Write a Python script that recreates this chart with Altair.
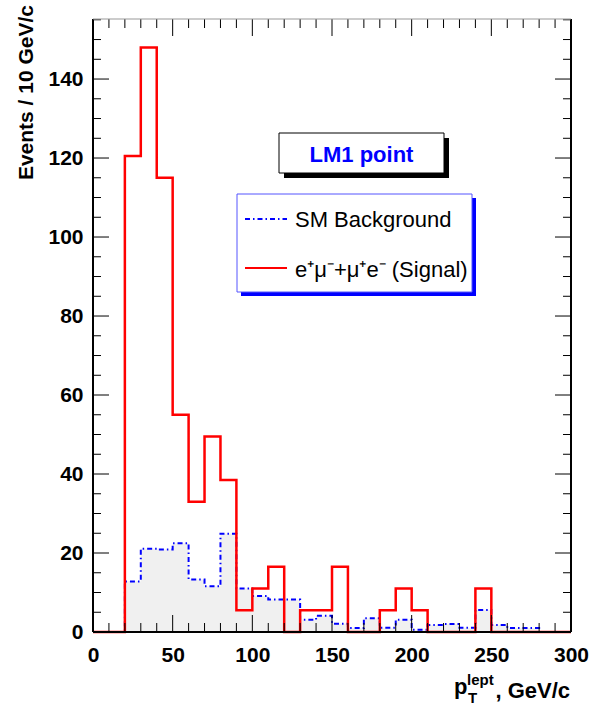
import altair as alt
import pandas as pd

# ---- data ----
bin_edges = list(range(0, 310, 10))  # 0..300
signal = [0, 0, 120.5, 148, 115, 55, 33, 49.5, 38.5, 5.5,
          11, 16.5, 0, 5.5, 5.5, 16.5, 0, 0, 5.5, 11,
          5.5, 0, 0, 0, 11, 0, 0, 0, 0, 0]
background = [0, 0, 12.8, 21.1, 20.9, 22.5, 13.3, 11.6, 24.9, 11.0,
              9.1, 8.2, 8.2, 3.1, 4.1, 2.1, 1.0, 3.5, 1.1, 3.1,
              0.6, 1.8, 2.0, 1.1, 5.6, 1.8, 1.0, 1.0, 0, 0]
x_major = [0, 50, 100, 150, 200, 250, 300]
x_minor = [v for v in range(0, 301, 10) if v % 50 != 0]
y_major = [0, 20, 40, 60, 80, 100, 120, 140]
y_minor = [v for v in range(0, 156, 5) if v % 20 != 0]

W, H = 478, 613
FONT = "Liberation Sans"

hist = pd.DataFrame({
    "x": bin_edges,
    "sig": signal + [signal[-1]],
    "bkg": background + [background[-1]],
})

xs = alt.Scale(domain=[0, 300], nice=False, zero=False)
ys = alt.Scale(domain=[0, 155.2], nice=False, zero=False)

x_axis = alt.Axis(values=x_major, ticks=False, domain=False, grid=False, title=None,
                  labelFont=FONT, labelFontWeight="bold", labelFontSize=21,
                  labelColor="black", labelPadding=12, labelFlush=False)
y_axis = alt.Axis(values=y_major, ticks=False, domain=False, grid=False, title=None,
                  labelFont=FONT, labelFontWeight="bold", labelFontSize=21,
                  labelColor="black", labelPadding=10)

base = alt.Chart(hist)

bkg_area = base.mark_area(interpolate="step-after", color="#f0f0f0").encode(
    x=alt.X("x:Q", scale=xs, axis=x_axis),
    y=alt.Y("bkg:Q", scale=ys, axis=y_axis),
)
bkg_line = base.mark_line(interpolate="step-after", color="#0000ff", strokeWidth=2,
                          strokeDash=[5, 3, 1.5, 3]).encode(
    x=alt.X("x:Q", scale=xs), y=alt.Y("bkg:Q", scale=ys))
sig_line = base.mark_line(interpolate="step-after", color="#ff0000", strokeWidth=2.5).encode(
    x=alt.X("x:Q", scale=xs), y=alt.Y("sig:Q", scale=ys))

def xticks(vals, length):
    d = alt.Chart(pd.DataFrame({"v": vals}))
    bottom = d.mark_rule(color="black", strokeWidth=1).encode(
        x=alt.X("v:Q", scale=xs), y=alt.value(H), y2=alt.value(H - length))
    top = d.mark_rule(color="black", strokeWidth=1).encode(
        x=alt.X("v:Q", scale=xs), y=alt.value(0), y2=alt.value(length))
    return [bottom, top]

def yticks(vals, length):
    d = alt.Chart(pd.DataFrame({"v": vals}))
    left = d.mark_rule(color="black", strokeWidth=1).encode(
        y=alt.Y("v:Q", scale=ys), x=alt.value(0), x2=alt.value(length))
    right = d.mark_rule(color="black", strokeWidth=1).encode(
        y=alt.Y("v:Q", scale=ys), x=alt.value(W), x2=alt.value(W - length))
    return [left, right]

ticks = xticks(x_major, 17) + xticks(x_minor, 9) + yticks(y_major, 16) + yticks(y_minor, 8)

one = alt.Chart(pd.DataFrame({"t": ["a"]}))
frame = [
    one.mark_rule(color="black", strokeWidth=2).encode(x=alt.value(0), y=alt.value(0), y2=alt.value(H)),
    one.mark_rule(color="black", strokeWidth=2).encode(x=alt.value(0), x2=alt.value(W), y=alt.value(H)),
    one.mark_rule(color="black", strokeWidth=2).encode(x=alt.value(W), y=alt.value(0), y2=alt.value(H)),
    one.mark_rule(color="#999999", strokeWidth=1).encode(x=alt.value(0), x2=alt.value(W), y=alt.value(0)),
]

# "LM1 point" box
lm1 = [
    one.mark_rect(color="black").encode(x=alt.value(191), x2=alt.value(356), y=alt.value(119), y2=alt.value(159)),
    one.mark_rect(fill="white", stroke="black", strokeWidth=1).encode(
        x=alt.value(186), x2=alt.value(351), y=alt.value(114), y2=alt.value(154)),
    one.mark_text(text="LM1 point", font=FONT, fontWeight="bold", fontSize=22, color="#0000ff",
                  align="center", baseline="alphabetic").encode(x=alt.value(268.5), y=alt.value(142.5)),
]

# legend box
leg = [
    one.mark_rect(color="#0000ff").encode(x=alt.value(148), x2=alt.value(383), y=alt.value(179), y2=alt.value(277)),
    one.mark_rect(fill="white", stroke="#5555ff", strokeWidth=1).encode(
        x=alt.value(144), x2=alt.value(379), y=alt.value(175), y2=alt.value(273)),
    one.mark_rule(color="#0000ff", strokeWidth=2, strokeDash=[5, 3, 1.5, 3]).encode(
        x=alt.value(152), x2=alt.value(194), y=alt.value(200)),
    one.mark_text(text="SM Background", font=FONT, fontSize=22, color="black",
                  align="left", baseline="alphabetic").encode(x=alt.value(202), y=alt.value(208)),
    one.mark_rule(color="#ff0000", strokeWidth=2).encode(
        x=alt.value(152), x2=alt.value(194), y=alt.value(249)),
    one.mark_text(text="e⁺μ⁻+μ⁺e⁻ (Signal)", font=FONT, fontSize=22, color="black",
                  align="left", baseline="alphabetic").encode(x=alt.value(202), y=alt.value(257.5)),
]

# axis titles
titles = [
    one.mark_text(text="Events / 10 GeV/c", font=FONT, fontWeight="bold", fontSize=21, color="black",
                  angle=270, align="right", baseline="middle").encode(x=alt.value(-66), y=alt.value(-14)),
    one.mark_text(text="p", font=FONT, fontWeight="bold", fontSize=22, color="black",
                  align="left", baseline="alphabetic").encode(x=alt.value(361), y=alt.value(675)),
    one.mark_text(text="T", font=FONT, fontWeight="bold", fontSize=15, color="black",
                  align="left", baseline="alphabetic").encode(x=alt.value(375), y=alt.value(684)),
    one.mark_text(text="lept", font=FONT, fontWeight="bold", fontSize=15, color="black",
                  align="left", baseline="alphabetic").encode(x=alt.value(374), y=alt.value(666)),
    one.mark_text(text=", GeV/c", font=FONT, fontWeight="bold", fontSize=22, color="black",
                  align="right", baseline="alphabetic").encode(x=alt.value(477), y=alt.value(679)),
]

chart = alt.layer(bkg_area, bkg_line, sig_line, *ticks, *frame, *lm1, *leg, *titles).properties(
    width=W, height=H,
    autosize=alt.AutoSizeParams(type="none"),
    padding={"left": 93, "top": 19, "right": 23, "bottom": 76},
    background="white",
).configure_view(stroke=None)

chart.save("out.html", embed_options={"renderer": "svg", "actions": False})
